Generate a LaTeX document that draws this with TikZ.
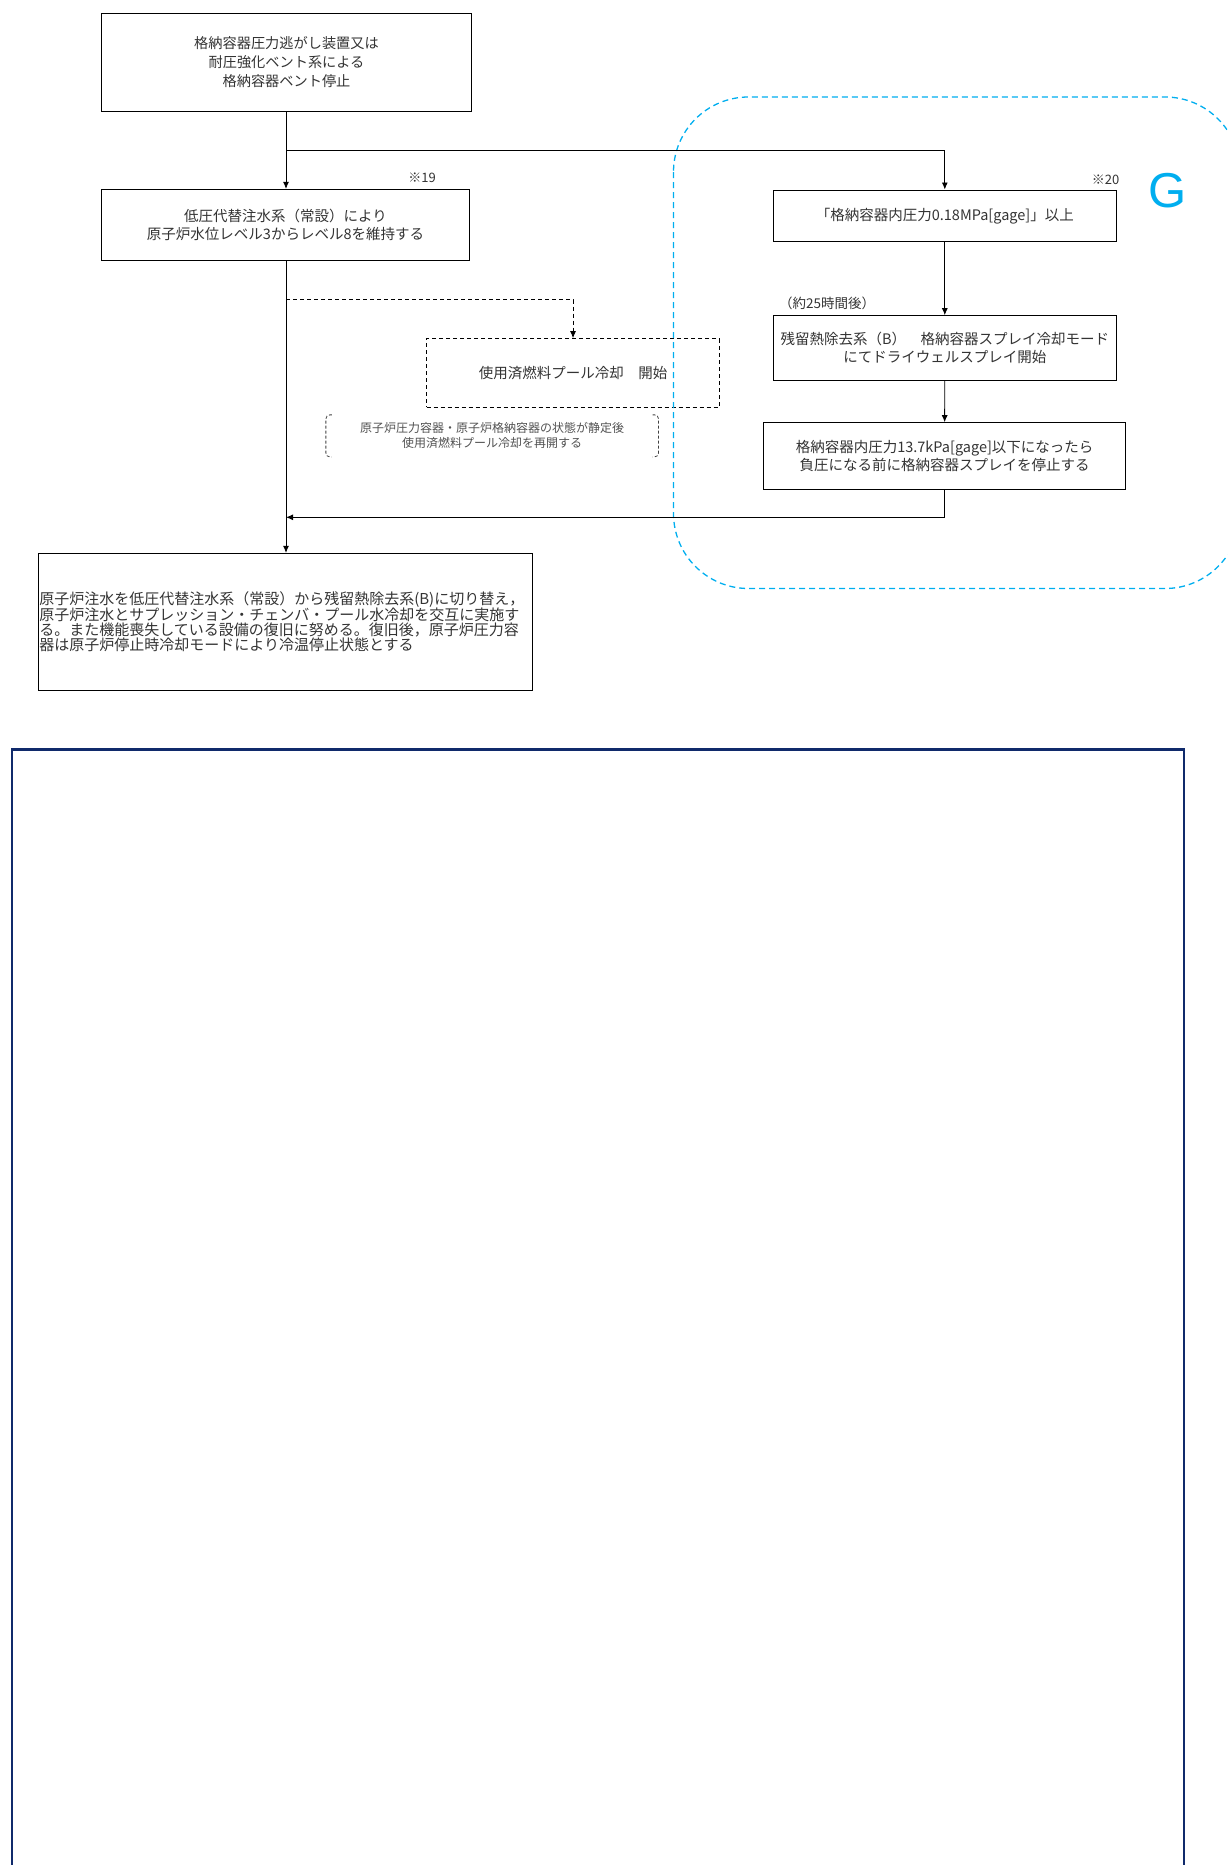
\documentclass[tikz,border=0pt]{standalone}
\usepackage{fontspec}
\newfontfamily\jpfont{Noto Sans CJK JP}
\newfontfamily\latinfont{Liberation Sans}
\usetikzlibrary{positioning,arrows.meta}
\definecolor{navy}{HTML}{102A6B}
\definecolor{gcyan}{HTML}{00AEEF}
\definecolor{ink}{HTML}{333333}

\begin{document}
\begin{tikzpicture}[
  x=1pt, y=-1pt,
  proc/.style={draw=black, line width=0.9pt, text=ink, align=center, inner sep=1pt,
    font={\jpfont\fontsize{14.5}{17.5}\selectfont}},
  procd/.style={proc, dash pattern=on 4pt off 3pt},
  lbl/.style={text=ink, inner sep=0pt, font={\jpfont\fontsize{13}{14}\selectfont}},
  arr/.style={-{Latex[length=7pt,width=6pt]}, line width=0.9pt},
  darr/.style={arr, dash pattern=on 4pt off 3pt}
]
\path[use as bounding box] (0,0) rectangle (1227,1865);
\clip (0,0) rectangle (1227,1865);

% left column
\node[proc, minimum width=369.4pt, minimum height=97.7pt,
  font={\jpfont\fontsize{14.2}{19}\selectfont}] (vent) at (286.5,62.2)
  {格納容器圧力逃がし装置又は\\耐圧強化ベント系による\\格納容器ベント停止};
\node[proc, minimum width=367.6pt, minimum height=70.7pt] (inject) at (285.5,224.7)
  {低圧代替注水系（常設）により\\原子炉水位レベル3からレベル8を維持する};
\node[lbl] (n19) at (422,178) {※19};

\node[procd, minimum width=292.6pt, minimum height=68.3pt] (pool) at (573,372.8)
  {使用済燃料プール冷却　開始};
\node[text=ink!85, align=center, inner sep=0pt, minimum width=332.3pt, minimum height=41.7pt,
  font={\jpfont\fontsize{12}{15}\selectfont}] (resume) at (492.2,435.9)
  {原子炉圧力容器・原子炉格納容器の状態が静定後\\使用済燃料プール冷却を再開する};
\draw[black!75, line width=0.8pt, dash pattern=on 3pt off 2pt, rounded corners=4pt]
  ([xshift=6pt]resume.north west) -- (resume.north west) -- (resume.south west) -- ([xshift=6pt]resume.south west);
\draw[black!75, line width=0.8pt, dash pattern=on 3pt off 2pt, rounded corners=4pt]
  ([xshift=-6pt]resume.north east) -- (resume.north east) -- (resume.south east) -- ([xshift=-6pt]resume.south east);

\node[proc, text width=492.4pt, minimum height=136.7pt, align=left,
  font={\jpfont\fontsize{15}{15}\selectfont}] (final) at (285.5,621.7)
  {原子炉注水を低圧代替注水系（常設）から残留熱除去系(B)に切り替え，\\
   原子炉注水とサプレッション・チェンバ・プール水冷却を交互に実施す\\
   る。また機能喪失している設備の復旧に努める。復旧後，原子炉圧力容\\
   器は原子炉停止時冷却モードにより冷温停止状態とする};

% right column (G)
\node[proc, minimum width=343.7pt, minimum height=51.7pt] (press) at (944.8,215.8)
  {「格納容器内圧力0.18MPa[gage]」以上};
\node[lbl] (n20) at (1105.5,179.5) {※20};
\node[lbl, font={\jpfont\fontsize{13.5}{14}\selectfont}] (after) at (827,303) {（約25時間後）};
\node[proc, minimum width=343.7pt, minimum height=64.3pt] (spray) at (944.8,347.8)
  {残留熱除去系（B）　格納容器スプレイ冷却モード\\にてドライウェルスプレイ開始};
\node[proc, minimum width=362.2pt, minimum height=66.3pt] (stop) at (944.6,455.8)
  {格納容器内圧力13.7kPa[gage]以下になったら\\負圧になる前に格納容器スプレイを停止する};
\node[text=gcyan, inner sep=0pt, font={\latinfont\fontsize{49}{49}\selectfont}] (gmark) at (1168,190.5) {G};
\draw[gcyan, line width=1.3pt, dash pattern=on 6pt off 4pt, rounded corners=75pt]
  (673.5,97) rectangle (1240,588.5);

% connectors
\coordinate (split) at (286,150.5);
\coordinate (pooltap) at (286,299.7);
\coordinate (back) at (286,517.3);
\draw[arr] (vent.south -| split) -- (inject.north -| split);
\draw[arr] (split) -| (press.north);
\draw[arr] (press) -- (spray);
\draw[arr] (spray) -- (stop);
\draw[arr] (inject.south -| split) -- (final.north -| split);
\draw[darr] (pooltap) -| (pool.north);
\draw[arr] (stop.south) |- (back);

% frame below
\draw[navy, line width=2.2pt] (12,1880) -- (12,749.5) -- (1184.3,749.5) -- (1184.3,1880);
\end{tikzpicture}
\end{document}
